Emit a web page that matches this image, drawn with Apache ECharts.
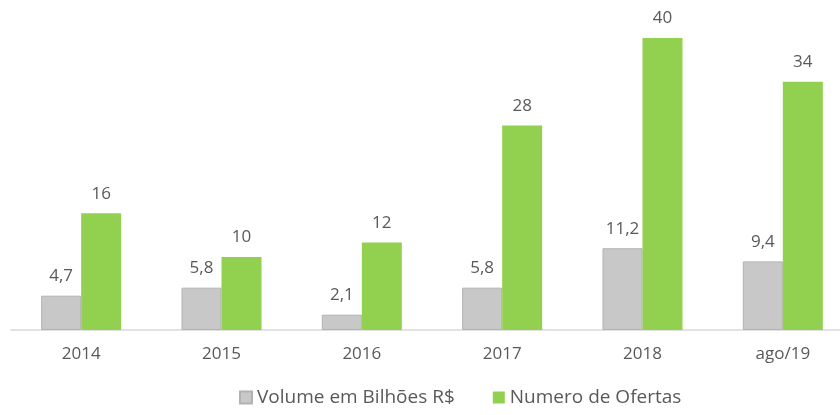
<!DOCTYPE html>
<html>
<head>
<meta charset="utf-8">
<script src="https://cdn.jsdelivr.net/npm/echarts@6/dist/echarts.min.js"></script>
<style>
  html, body { margin: 0; padding: 0; background: #fff; }
  #chart { width: 840px; height: 415px; }
</style>
</head>
<body>
<div id="chart"></div>
<script>
const categories = ['2014', '2015', '2016', '2017', '2018', 'ago/19']
const volume = [4.7, 5.8, 2.1, 5.8, 11.2, 9.4]
const ofertas = [16, 10, 12, 28, 40, 34]

const fontFamily = '"Open Sans", "Noto Sans", sans-serif'
const textColor = '#595959'

const chart = echarts.init(document.getElementById('chart'))
chart.setOption({
  animation: false,
  textStyle: { fontFamily: fontFamily },
  grid: { left: 11, width: 842, top: 38, bottom: 85, outerBoundsMode: 'none' },
  legend: {
    bottom: 3,
    left: 234,
    itemWidth: 12,
    itemHeight: 12,
    itemGap: 38,
    icon: 'rect',
    textStyle: { color: textColor, fontSize: 19, fontFamily: fontFamily }
  },
  xAxis: {
    type: 'category',
    data: categories,
    axisLine: { lineStyle: { color: '#d9d9d9', width: 1.5 } },
    axisTick: { show: false },
    axisLabel: { color: textColor, fontSize: 17, margin: 16 }
  },
  yAxis: {
    type: 'value',
    min: 0,
    max: 40,
    show: false
  },
  series: [
    {
      name: 'Volume em Bilhões R$',
      type: 'bar',
      data: volume,
      barWidth: 40,
      barGap: '0%',
      itemStyle: { color: '#c8c8c8', borderColor: '#b2b2b2', borderWidth: 1 },
      label: {
        show: true,
        position: 'top',
        distance: 11,
        color: textColor,
        fontSize: 17,
        formatter: p => p.value.toFixed(1).replace('.', ',')
      }
    },
    {
      name: 'Numero de Ofertas',
      type: 'bar',
      data: ofertas,
      barWidth: 40,
      itemStyle: { color: '#92d050' },
      label: {
        show: true,
        position: 'top',
        distance: 11,
        color: textColor,
        fontSize: 17
      }
    }
  ]
})
</script>
</body>
</html>
